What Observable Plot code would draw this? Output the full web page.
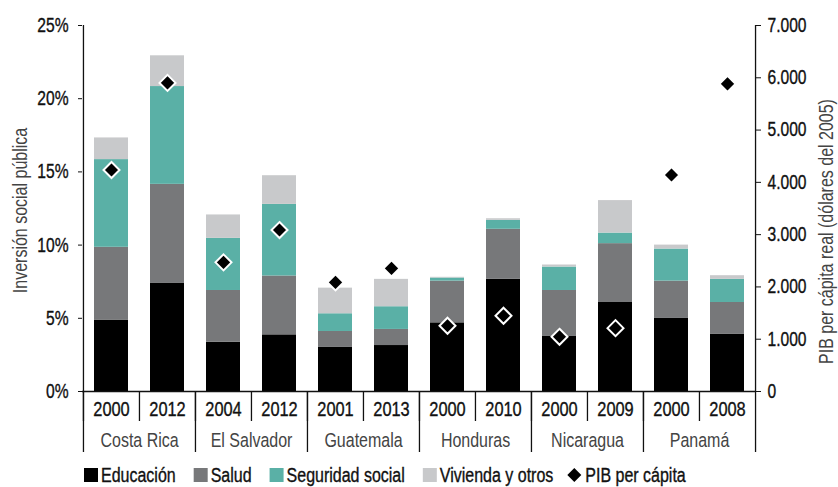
<!DOCTYPE html>
<html>
<head>
<meta charset="utf-8">
<script src="https://cdn.jsdelivr.net/npm/d3@7"></script>
<script src="https://cdn.jsdelivr.net/npm/@observablehq/plot@0.6"></script>
<style>
  body { margin: 0; background: #fff; }
  #wrap { position: relative; width: 838px; height: 487px; overflow: hidden; }
  svg { display: block; }
</style>
</head>
<body>
<div id="wrap">
  <div id="chart"></div>
  <div id="legend"></div>
</div>
<script>
// ---- data ----
const country = ["Costa Rica","Costa Rica","El Salvador","El Salvador","Guatemala","Guatemala","Honduras","Honduras","Nicaragua","Nicaragua","Panamá","Panamá"];
const year = ["2000","2012","2004","2012","2001","2013","2000","2010","2000","2009","2000","2008"];
const educacion = [4.88, 7.38, 3.37, 3.87, 3.01, 3.14, 4.69, 7.66, 3.76, 6.08, 4.99, 3.90];
const salud     = [4.97, 6.77, 3.53, 4.02, 1.09, 1.10, 2.85, 3.42, 3.14, 4.02, 2.55, 2.18];
const seguridad = [5.99, 6.68, 3.56, 4.89, 1.21, 1.55, 0.21, 0.61, 1.60, 0.72, 2.19, 1.58];
const vivienda  = [1.48, 2.10, 1.60, 1.96, 1.75, 1.87, 0.05, 0.11, 0.14, 2.22, 0.27, 0.25];
const pib       = [4236, 5902, 2470, 3088, 2087, 2355, 1257, 1449, 1046, 1212, 4141, 5883];
const countries = ["Costa Rica","El Salvador","Guatemala","Honduras","Nicaragua","Panamá"];
const components = ["Educación","Salud","Seguridad social","Vivienda y otros"];
const colors = ["#000000","#77787a","#5ab0a6","#c8c9cb"];
const leftTicks = [0,5,10,15,20,25];
const rightTicks = [0,1000,2000,3000,4000,5000,6000,7000];

// ---- derived tables ----
const keys = country.map((c,i) => c + " " + year[i]);
const yearOf = new Map(keys.map((k,i) => [k, year[i]]));
const series = [educacion, salud, seguridad, vivienda];
const rows = [];
components.forEach((comp, j) => keys.forEach((k, i) => rows.push({key: k, component: comp, value: series[j][i]})));
const points = keys.map((k,i) => ({key: k, pib: pib[i]}));
const k = 25 / 7000;
const fmtPIB = d3.formatLocale({decimal: ",", thousands: ".", grouping: [3], currency: ["",""]}).format(",");
const firstKeys = countries.map(c => keys[country.indexOf(c)]);

const W = 838, H = 460, mL = 82, mR = 83, mT = 25, mB = 69;
const step = (W - mL - mR) / keys.length;
const font = "'Liberation Sans', Arial, sans-serif";
const SQUEEZE = 0.78;

const chart = Plot.plot({
  width: W, height: H,
  marginLeft: mL, marginRight: mR, marginTop: mT, marginBottom: mB,
  style: {fontFamily: font, background: "#fff", color: "#111"},
  x: {type: "band", domain: keys, paddingInner: 0.4, paddingOuter: 0.2, label: null},
  y: {domain: [0, 25], label: null},
  color: {domain: components, range: colors},
  marks: [
    Plot.barY(rows, {x: "key", y: "value", fill: "component", order: components}),
    // axis lines
    Plot.ruleX([keys[0]], {dx: -step/2, stroke: "#111", strokeWidth: 1.3}),
    Plot.ruleX([keys[keys.length-1]], {dx: step/2, stroke: "#111", strokeWidth: 1.3}),
    Plot.ruleY([0], {stroke: "#111", strokeWidth: 1.3}),
    // left & right axes
    Plot.axisY({anchor: "left", ticks: leftTicks, tickFormat: d => d + "%", tickSize: 4, tickPadding: 10, fontSize: 20, label: null, stroke: "#111", fill: "#111", className: "bold-ish"}),
    Plot.axisY({anchor: "right", ticks: rightTicks.map(v => v * k), tickFormat: d => fmtPIB(Math.round(d / k)), tickSize: 5, tickPadding: 7, fontSize: 20, label: null, stroke: "#111", fill: "#111"}),
    // x axis: years
    Plot.axisX({ticks: keys, tickSize: 0, tickPadding: 10, tickFormat: d => yearOf.get(d), fontSize: 21, label: null, fill: "#111"}),
    // separators between years
    Plot.axisX({ticks: keys, tickSize: 30, tickFormat: () => "", dx: -step/2, label: null, strokeWidth: 1.3, stroke: "#111"}),
    // separators between countries
    Plot.axisX({ticks: firstKeys, tickSize: 61, tickFormat: () => "", dx: -step/2, label: null, strokeWidth: 1.3, stroke: "#111"}),
    Plot.axisX({ticks: [keys[keys.length-1]], tickSize: 61, tickFormat: () => "", dx: step/2, label: null, strokeWidth: 1.3, stroke: "#111"}),
    // country labels
    Plot.text(countries, {x: (c, i) => firstKeys[i], text: d => d, dx: step/2, frameAnchor: "bottom", lineAnchor: "top", dy: 41, fontSize: 20.5, fill: "#444"}),
    // axis titles
    Plot.text(["Inversión social pública"], {frameAnchor: "left", textAnchor: "middle", rotate: -90, dx: -62, dy: 2, fontSize: 20.5, fill: "#444"}),
    Plot.text(["PIB per cápita real (dólares del 2005)"], {frameAnchor: "right", textAnchor: "middle", rotate: -90, dx: 71, dy: 23, fontSize: 20.5, fill: "#444"}),
    // PIB diamonds
    Plot.dot(points, {x: "key", y: d => d.pib * k, symbol: "diamond2", r: 7.2, fill: "#000", stroke: "#fff", strokeWidth: 2})
  ]
});
document.getElementById("chart").appendChild(chart);

function squeeze(t, f, heavy) {
  const L = t.getComputedTextLength();
  if (L > 0) {
    t.setAttribute("textLength", (L * f).toFixed(2));
    t.setAttribute("lengthAdjust", "spacingAndGlyphs");
    if (heavy) { t.style.stroke = "#111"; t.style.strokeWidth = "0.35px"; }
  }
  return L * f;
}
chart.querySelectorAll("text").forEach(t => {
  const fill = t.getAttribute("fill") || (t.parentNode && t.parentNode.getAttribute("fill"));
  const heavy = fill !== "#444";
  squeeze(t, SQUEEZE, heavy);
});

// legend (below the chart)
const lg = d3.select("#legend").append("svg").attr("width", W).attr("height", 27)
  .style("font-family", font).style("font-size", "19.5px");
let lx = 84;
const legendItems = components.map((c, i) => ({label: c, color: colors[i], shape: "square"}))
  .concat([{label: "PIB per cápita", color: "#000", shape: "diamond"}]);
legendItems.forEach((item, i) => {
  if (item.shape === "square") {
    lg.append("rect").attr("x", lx).attr("y", 8).attr("width", 14).attr("height", 14).attr("fill", item.color);
    lx += 17;
  } else {
    lg.append("path").attr("d", `M${lx+7},8L${lx+14},15L${lx+7},22L${lx},15Z`).attr("fill", item.color);
    lx += 18;
  }
  const t = lg.append("text").attr("x", lx).attr("y", 22).attr("fill", "#111").text(item.label);
  const L = squeeze(t.node(), 0.82, true);
  lx += L + (i === 3 ? 14 : 18);
});
</script>
</body>
</html>
